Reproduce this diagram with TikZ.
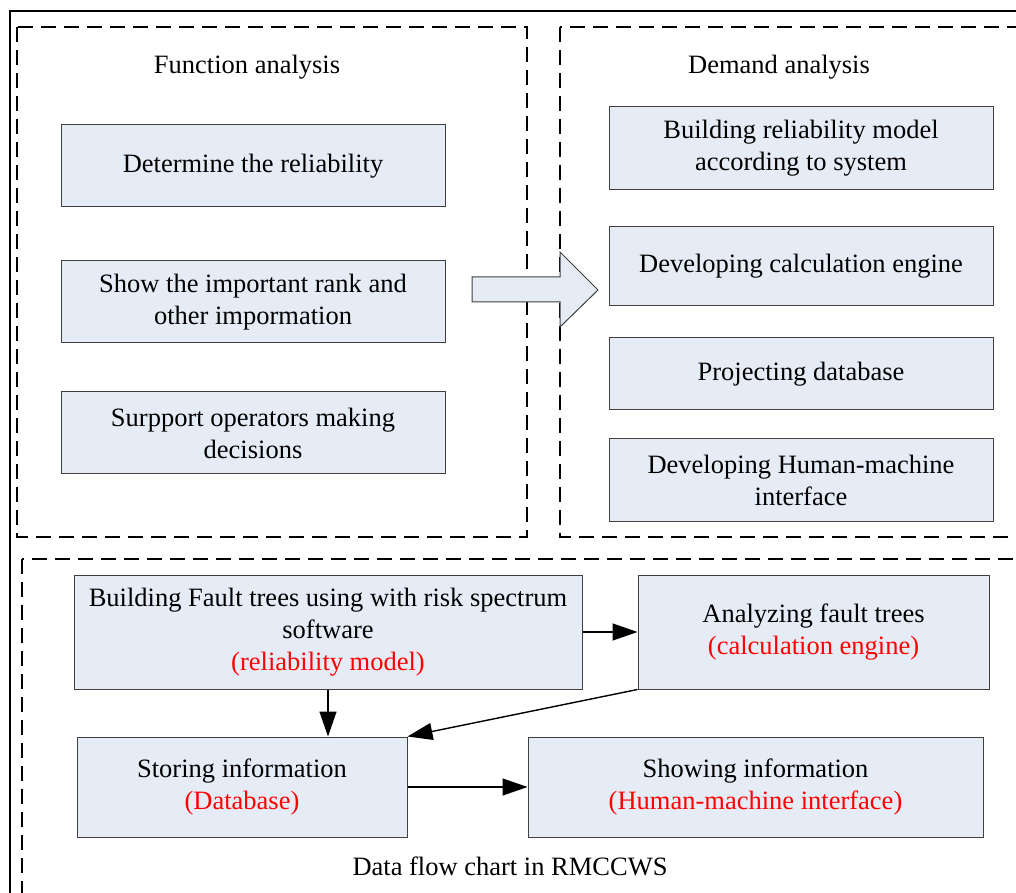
\documentclass[tikz,border=0pt]{standalone}
\usepackage{fontspec}
\setmainfont{Liberation Serif}
\usetikzlibrary{positioning,arrows.meta}

\definecolor{boxfill}{HTML}{E6ECF6}
\definecolor{boxline}{HTML}{404040}

\tikzset{
  box/.style={draw=boxline, line width=1pt, fill=boxfill, align=center, inner sep=0pt},
  title/.style={inner sep=0pt},
  dashbox/.style={draw, line width=1.8pt, dash pattern=on 15pt off 8pt},
  flow/.style={line width=1.4pt, -{Triangle[length=25pt,width=17pt]}}
}

\begin{document}
\begin{tikzpicture}[x=1pt, y=1pt, font=\fontsize{26.5}{32}\selectfont]
\useasboundingbox (0,0) rectangle (1016,892);
\clip (0,0) rectangle (1016,892);
\fill[white] (0,0) rectangle (1016,892);

% frames
\draw[line width=2.5pt] (10,881) rectangle (1040,-30);
\draw[dashbox] (17,865) rectangle (527,355);
\draw[dashbox] (560,865) rectangle (1040,355);
\draw[dashbox] (22,333) rectangle (1040,-30);

% function analysis
\node (fun) [title] at (247,825) {Function analysis};
\node (det) [box, minimum width=384pt, minimum height=82pt] at (253,726) {Determine the reliability};
\node (rank)[box, minimum width=384pt, minimum height=82pt] [below=53pt of det] {Show the important rank and\\other impormation};
\node (sup) [box, minimum width=384pt, minimum height=82pt] [below=48pt of rank] {Surpport operators making\\decisions};

% demand analysis
\node (dem) [title] at (779,825) {Demand analysis};
\node (model)[box, minimum width=384pt, minimum height=83pt] at (801,743.5) {Building reliability model\\according to system};
\node (eng) [box, minimum width=384pt, minimum height=79pt] [below=36pt of model] {Developing calculation engine};
\node (db)  [box, minimum width=384pt, minimum height=72pt] [below=31pt of eng] {Projecting database};
\node (hmi) [box, minimum width=384pt, minimum height=83pt] [below=28pt of db] {Developing Human-machine\\interface};

% big arrow
\draw[draw=boxline, line width=1pt, fill=boxfill]
  (472,615) -- (560,615) -- (560,640) -- (598,602) -- (560,565) -- (560,590) -- (472,590) -- cycle;

% data flow
\node (fault)[box, minimum width=508pt, minimum height=114pt] at (328,260) {Building Fault trees using with risk spectrum\\software\\\textcolor{red}{(reliability model)}};
\node (ana) [box, minimum width=351pt, minimum height=114pt] [right=55pt of fault] {Analyzing fault trees\\\textcolor{red}{(calculation engine)}};
\node (store)[box, minimum width=330pt, minimum height=100pt] at (242,105) {Storing information\\\textcolor{red}{(Database)}};
\node (show) [box, minimum width=455pt, minimum height=100pt] [right=120pt of store] {Showing information\\\textcolor{red}{(Human-machine interface)}};
\node (cap) [title] at (510,26) {Data flow chart in RMCCWS};

\draw[flow] (fault.east) -- (ana.west);
\draw[flow] (fault.south) -- (fault.south |- store.north);
\draw[flow] (ana.south west) -- (store.north east);
\draw[flow] (store.east) -- (show.west);
\end{tikzpicture}
\end{document}
